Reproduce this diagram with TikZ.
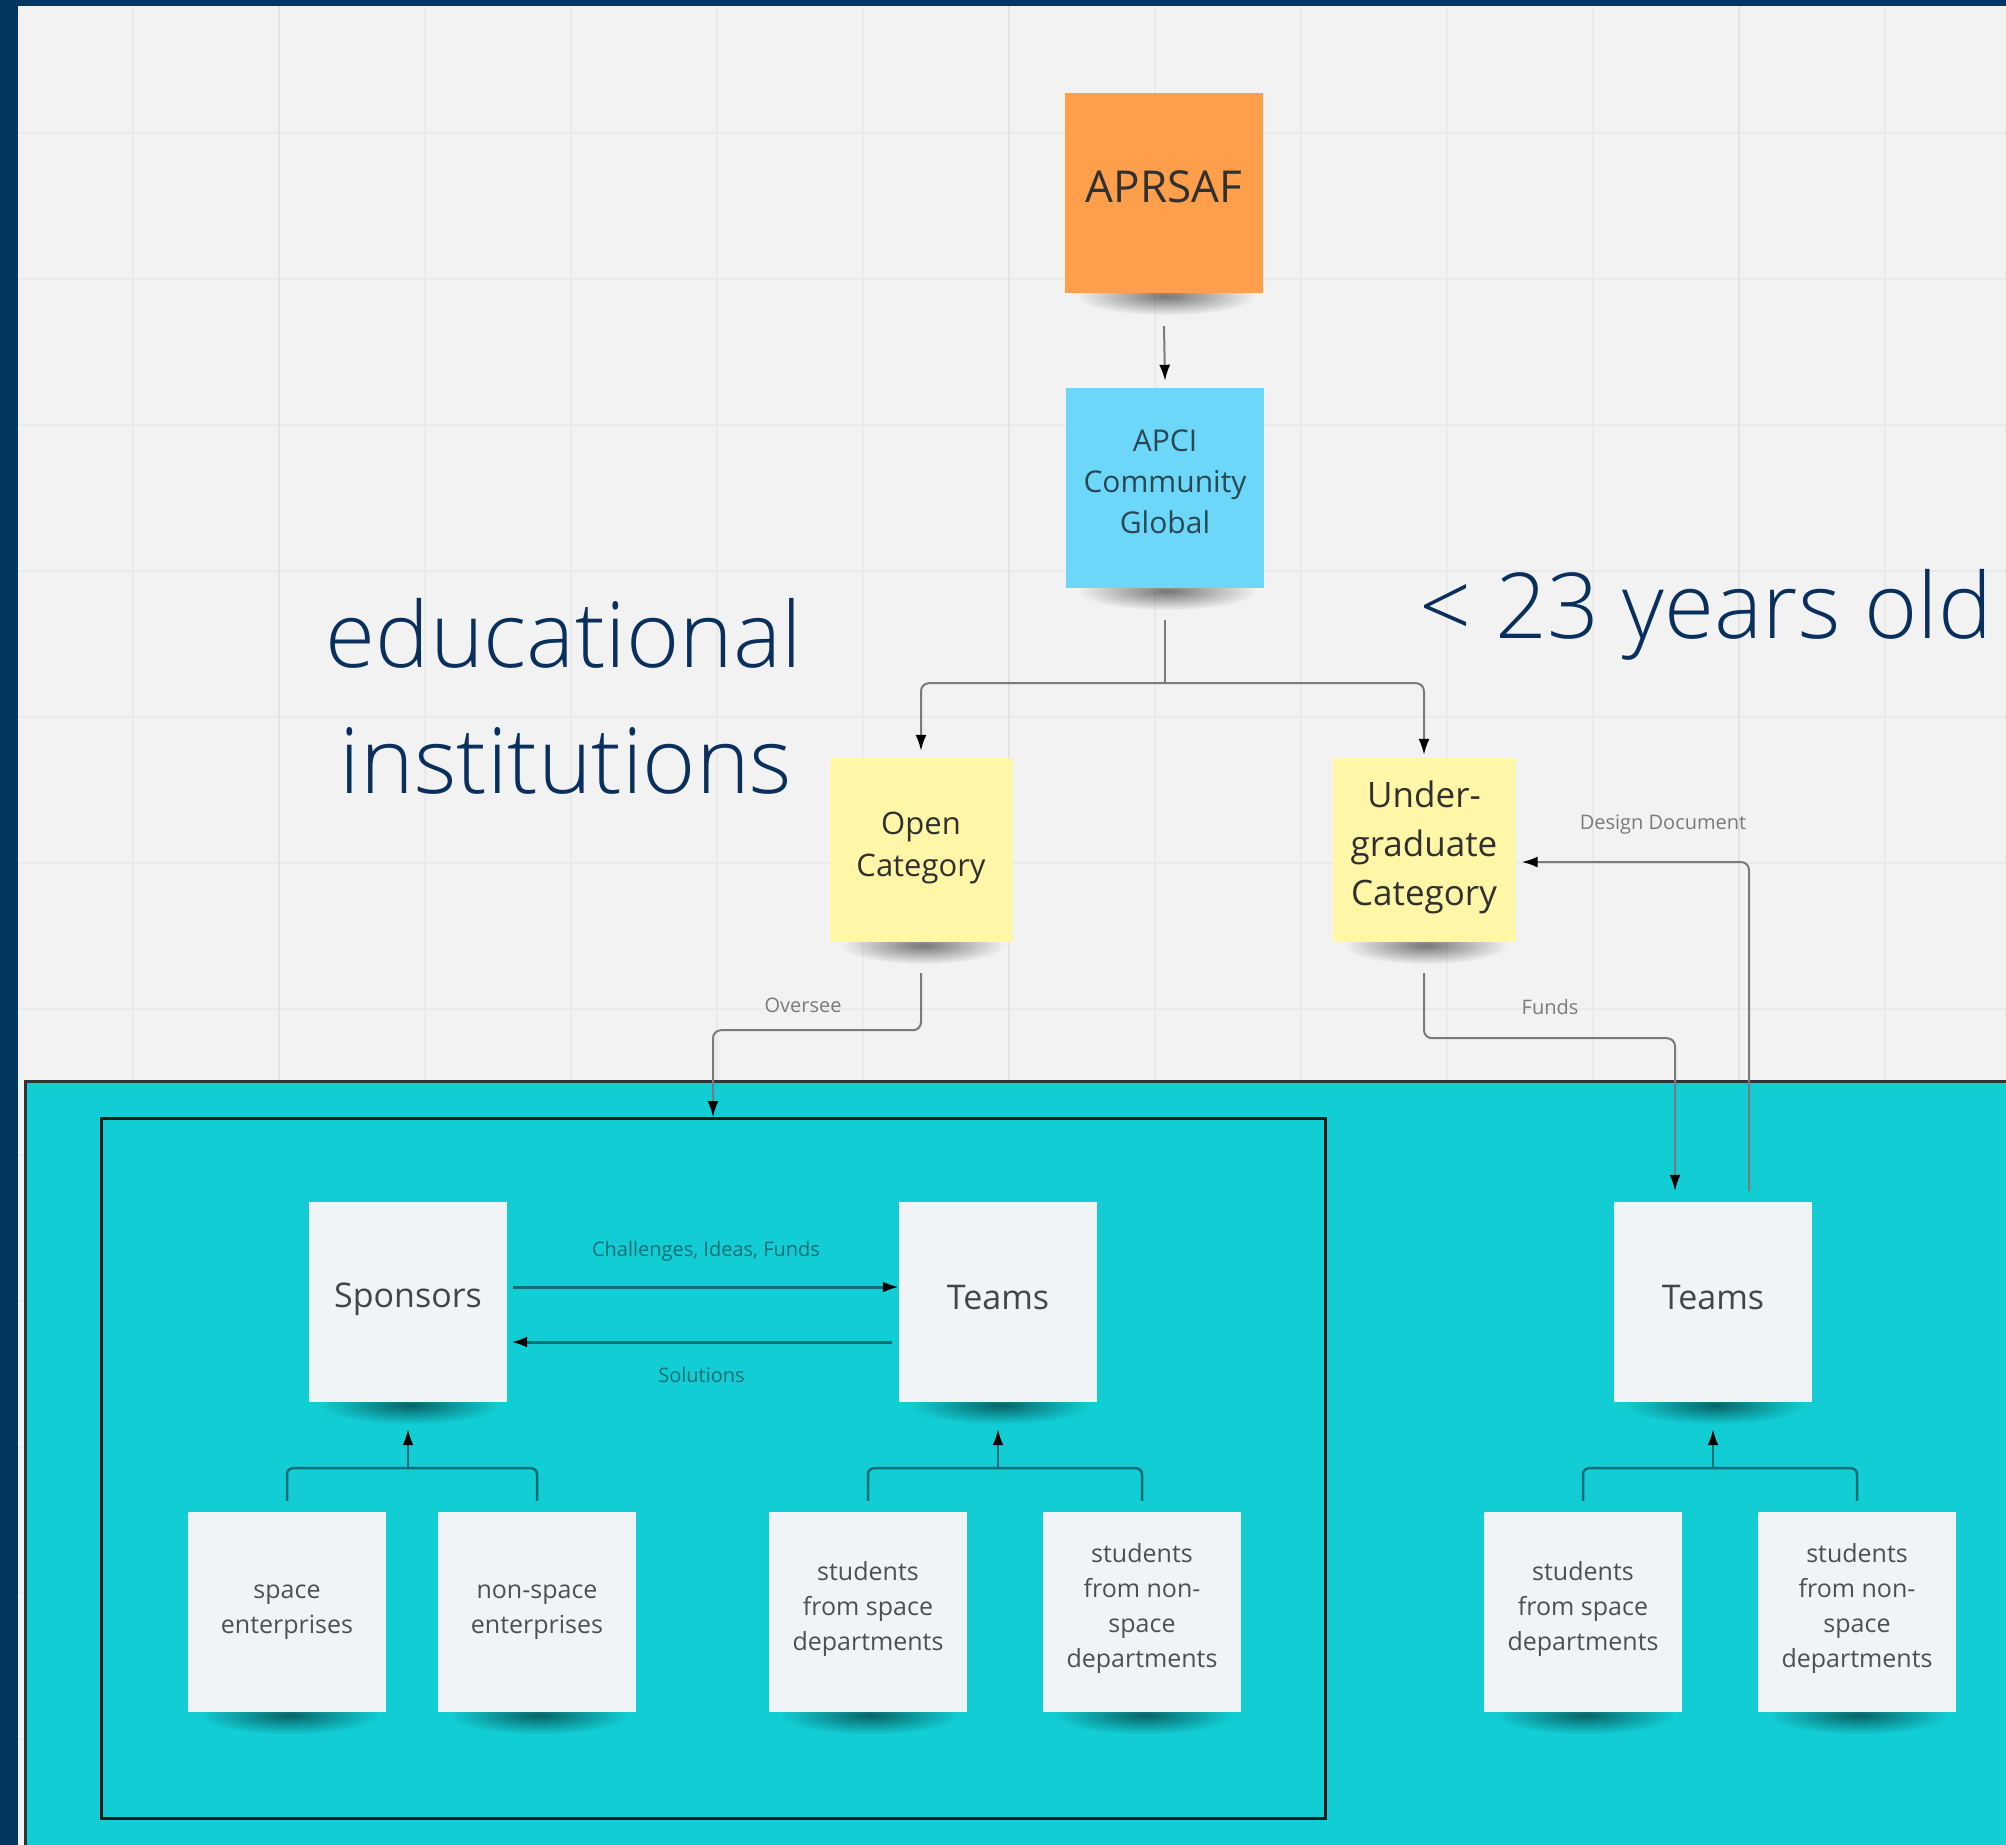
\documentclass[tikz,border=0pt]{standalone}
\usepackage{fontspec}
\setmainfont{Open Sans}
\newfontfamily\lightsans{Open Sans Light}
\usetikzlibrary{arrows.meta,calc,fadings}

\definecolor{navycol}{RGB}{3,54,96}
\definecolor{textnavy}{RGB}{9,47,92}
\definecolor{paper}{RGB}{242,242,242}
\definecolor{gridcol}{RGB}{234,234,234}
\definecolor{gridmaj}{RGB}{226,226,226}
\definecolor{cyancol}{RGB}{18,205,212}
\definecolor{orangecol}{RGB}{255,159,75}
\definecolor{bluecol}{RGB}{109,215,249}
\definecolor{yellowcol}{RGB}{255,246,168}
\definecolor{whitecol}{RGB}{240,244,247}
\definecolor{linecol}{RGB}{122,122,122}
\definecolor{tealcol}{RGB}{14,112,118}
\definecolor{inkcol}{RGB}{48,48,48}
\definecolor{bluetxt}{RGB}{40,72,84}

\pgfdeclarelayer{back}
\pgfdeclarelayer{shade}
\pgfsetlayers{back,shade,main}

\tikzfading[name=noteshade, inner color=transparent!15, outer color=transparent!100]

% depth below the last line, lifts the text inside a note
\newcommand\drop[1]{\rule[-#1]{0pt}{0pt}}

\tikzset{
  note/.style={minimum width=198pt, minimum height=200pt, inner sep=0pt, align=center, text=inkcol},
  cat/.style={note, minimum width=183pt, minimum height=184pt, fill=yellowcol},
  card/.style={note, fill=whitecol, text=inkcol!90, font=\fontsize{34}{40}\selectfont},
  kid/.style={note, fill=whitecol, text=inkcol!85, font=\fontsize{25}{35}\selectfont},
  link/.style={draw=linecol, line width=2pt, rounded corners=8pt},
  tlink/.style={draw=tealcol, line width=2.5pt, rounded corners=6pt},
  headed/.style={-{Latex[length=16pt,width=11pt,color=black]}},
  lbl/.style={text=linecol, font=\fontsize{20}{23}\selectfont, inner sep=0pt},
  tlbl/.style={lbl, text=tealcol},
  big/.style={text=textnavy, font=\lightsans\fontsize{91}{126}\selectfont, inner sep=0pt},
}

\begin{document}
\begin{tikzpicture}[x=1pt, y=-1pt]
\useasboundingbox (0,0) rectangle (2006,1845);

\begin{pgfonlayer}{back}
  \fill[paper] (0,0) rectangle (2006,1845);
  \foreach \k in {0,...,12} {
    \draw[gridcol, line width=1.5pt] ({133+146*\k},0) -- ({133+146*\k},1845);
    \draw[gridcol, line width=1.5pt] (0,{133+146*\k}) -- (2006,{133+146*\k});
  }
  \foreach \k in {1,6,11}
    \draw[gridmaj, line width=2pt] ({133+146*\k},0) -- ({133+146*\k},1845);
  \fill[cyancol] (24,1080) rectangle (2006,1845);
  \draw[black!80, line width=3pt] (25.5,1845) -- (25.5,1081.5) -- (2006,1081.5);
  \fill[navycol] (0,0) rectangle (18,1845);
  \fill[navycol] (0,0) rectangle (2006,6);
\end{pgfonlayer}

\node[draw=black!75!tealcol, line width=3pt, minimum width=1224pt, minimum height=700pt, inner sep=0pt] at (713,1468.5) (openbox) {};

\node[big, anchor=base] at (564,667) (edu) {educational};
\node[big, anchor=base] at (566,793) (inst) {institutions};
\node[big, anchor=base] at (1706,638) (age) {< 23 years old};

\node[note, fill=orangecol, font=\fontsize{44}{52}\selectfont] at (1164,193) (aprsaf) {APRSAF\drop{12pt}};
\node[note, fill=bluecol, text=bluetxt, font=\fontsize{30}{41}\selectfont] at (1165,488) (apci) {APCI\\Community\\Global\drop{13pt}};
\node[cat, font=\fontsize{31}{42}\selectfont] at (921,850) (open) {Open\\Category\drop{11pt}};
\node[cat, font=\fontsize{35}{49}\selectfont] at (1424,850) (under) {Under-\\graduate\\Category\drop{14pt}};

\node[card] at (408,1302) (sponsors) {Sponsors\drop{13pt}};
\node[card] at (998,1302) (teamsopen) {Teams\drop{10pt}};
\node[card] at (1713,1302) (teamsunder) {Teams\drop{10pt}};

\node[kid] at (287,1612) (spcent) {space\\enterprises};
\node[kid] at (537,1612) (nspcent) {non-space\\enterprises};
\node[kid] at (868,1612) (stsp) {students\\from space\\departments\drop{12pt}};
\node[kid] at (1142,1612) (stnsp) {students\\from non-\\space\\departments\drop{13pt}};
\node[kid] at (1583,1612) (ustsp) {students\\from space\\departments\drop{12pt}};
\node[kid] at (1857,1612) (ustnsp) {students\\from non-\\space\\departments\drop{13pt}};

\begin{pgfonlayer}{shade}
  \foreach \n in {aprsaf,apci,open,under,sponsors,teamsopen,teamsunder,spcent,nspcent,stsp,stnsp,ustsp,ustnsp}
    \fill[black, opacity=.6, path fading=noteshade, fit fading=true] ($(\n.south west)+(12,-16)$) rectangle ($(\n.south east)+(-8,22)$);
\end{pgfonlayer}

\draw[link, headed] ([yshift=-33pt]aprsaf.south) -- ([yshift=7pt]apci.north);
\draw[link] ([yshift=-32pt]apci.south) -- ++(0,63) coordinate (split);
\draw[link, headed] (split) -| ([yshift=7pt]open.north);
\draw[link, headed] (split) -| ([yshift=3pt]under.north);

\draw[link, headed] ([yshift=-31pt]open.south) -- ++(0,57) -| (openbox.north);
\draw[link, headed] ([yshift=-31pt]under.south) -- ++(0,65) -| ([xshift=-38pt, yshift=11pt]teamsunder.north);
\draw[link, headed] ([xshift=36pt, yshift=11pt]teamsunder.north) |- ([xshift=6pt, yshift=-12pt]under.east);

\node[lbl] at (803,1005) (oversee) {Oversee};
\node[lbl] at (1550,1007) (funds) {Funds};
\node[lbl] at (1663,825) (design) {Design Document};

\draw[tealcol, line width=3pt, headed] ([xshift=6pt, yshift=15pt]sponsors.east) -- ([yshift=15pt]teamsopen.west)
  node[tlbl, midway, above=24pt] (challenges) {Challenges, Ideas, Funds};
\draw[tealcol, line width=3pt, headed] ([xshift=-7pt, yshift=-40pt]teamsopen.west) -- ([xshift=4pt, yshift=-40pt]sponsors.east)
  node[tlbl, midway, below=24pt] (solutions) {Solutions};

\draw[tlink] ([yshift=11pt]spcent.north) |- ([yshift=-66pt]sponsors.south) -| ([yshift=11pt]nspcent.north);
\draw[tlink, headed] ([yshift=-66pt]sponsors.south) -- ([yshift=-27pt]sponsors.south);
\draw[tlink] ([yshift=11pt]stsp.north) |- ([yshift=-66pt]teamsopen.south) -| ([yshift=11pt]stnsp.north);
\draw[tlink, headed] ([yshift=-66pt]teamsopen.south) -- ([yshift=-27pt]teamsopen.south);
\draw[tlink] ([yshift=11pt]ustsp.north) |- ([yshift=-66pt]teamsunder.south) -| ([yshift=11pt]ustnsp.north);
\draw[tlink, headed] ([yshift=-66pt]teamsunder.south) -- ([yshift=-27pt]teamsunder.south);
\end{tikzpicture}
\end{document}
